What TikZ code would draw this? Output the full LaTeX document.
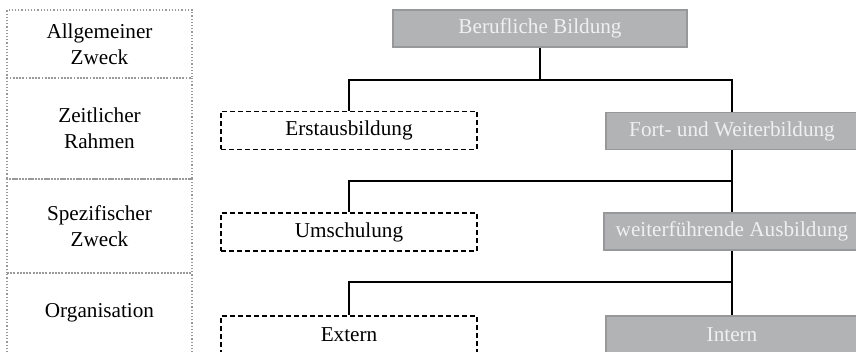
\documentclass[tikz,border=0pt]{standalone}
\usepackage{fontspec}
\setmainfont{Liberation Serif}
\definecolor{boxgray}{RGB}{177,179,181}
\definecolor{rimgray}{RGB}{150,152,154}
\tikzset{
  txt/.style={font=\fontsize{10.6pt}{13pt}\selectfont,align=center,inner sep=0pt},
  rowbox/.style={txt,draw=black!40,densely dotted,minimum width=92.5pt},
  mainbox/.style={txt,draw=rimgray,fill=boxgray,text=white!94!black,minimum height=18.5pt},
  altbox/.style={txt,draw=black,dash pattern=on 2.5pt off 1.5pt,minimum width=128pt,minimum height=19pt},
}
\begin{document}
\begin{tikzpicture}[x=0.5pt,y=-0.5pt,line width=0.6pt]
  \useasboundingbox (0,0) rectangle (856,352);
  \clip (0,0) rectangle (856,352);
  %% levels
  \foreach \n/\y/\h/\t in {allg/44/34pt/Allgemeiner\\Zweck,zeit/128.5/50.5pt/Zeitlicher\\Rahmen,spez/226/47pt/Spezifischer\\Zweck,orga/313/40pt/Organisation}
    \node[rowbox,minimum height=\h] (\n) at (99.5,\y) {\t};
  %% boxes
  \node[mainbox,minimum width=147pt] (berufl) at (540,28.5) {Berufliche Bildung};
  \node[altbox] (erst) at (349,130.5) {Erstausbildung};
  \node[mainbox,minimum width=126pt] (fort) at (732,131) {Fort- und Weiterbildung};
  \node[altbox] (umsch) at (349,232) {Umschulung};
  \node[mainbox,minimum width=128pt] (weiter) at (732,231.5) {weiterführende Ausbildung};
  \node[altbox] (extern) at (349,335) {Extern};
  \node[mainbox,minimum width=126pt] (intern) at (732,334.5) {Intern};
  %% branches
  \coordinate (j1) at (540,80);
  \coordinate (j2) at (732,181);
  \coordinate (j3) at (732,282);
  \draw (berufl) -- (j1);
  \draw (erst.north) |- (j1) -| (fort.north);
  \draw (fort) -- (weiter);
  \draw (j2) -| (umsch.north);
  \draw (weiter) -- (intern);
  \draw (j3) -| (extern.north);
\end{tikzpicture}
\end{document}
